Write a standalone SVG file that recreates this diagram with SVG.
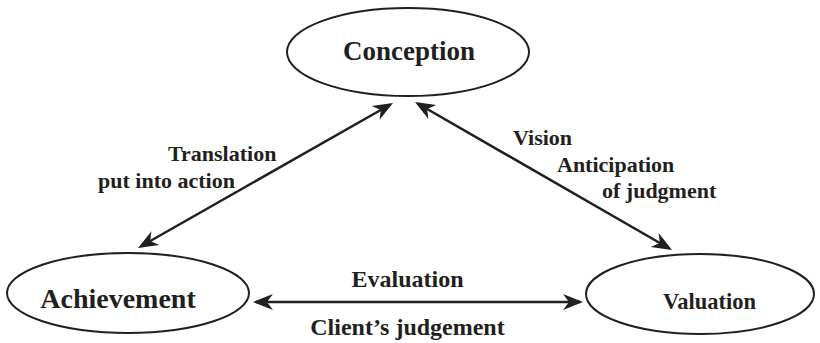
<svg xmlns="http://www.w3.org/2000/svg" width="820" height="343" viewBox="0 0 820 343">
<style>
.node{fill:#fff;stroke:#231f20;stroke-width:2}
.t{font-family:"Liberation Serif","Times New Roman",serif;font-weight:bold;fill:#231f20}
.c{stroke:#231f20;stroke-width:2.5;fill:none;marker-start:url(#ah);marker-end:url(#ah)}
</style>
<defs>
<marker id="ah" markerUnits="userSpaceOnUse" markerWidth="30" markerHeight="30" viewBox="-22 -11 30 22" refX="0" refY="0" orient="auto-start-reverse">
<path d="M3,0 L-17,-8 L-11,0 L-17,8 Z" fill="#231f20"/>
</marker>
</defs>
<rect width="820" height="343" fill="#fff"/>
<g id="connectors">
<line class="c" x1="140.6" y1="246.5" x2="390.4" y2="104.5"/>
<line class="c" x1="417.6" y1="103.5" x2="669.4" y2="248.5"/>
<line class="c" x1="256" y1="302" x2="580" y2="302"/>
<text class="t" x="168" y="161" font-size="22">Translation</text>
<text class="t" x="98" y="188" font-size="22">put into action</text>
<text class="t" x="513" y="145" font-size="22">Vision</text>
<text class="t" x="557" y="172" font-size="22">Anticipation</text>
<text class="t" x="602" y="198" font-size="22">of judgment</text>
<text class="t" x="407.5" y="287" font-size="24" text-anchor="middle">Evaluation</text>
<text class="t" x="407.5" y="335" font-size="24" text-anchor="middle">Client’s judgement</text>
</g>
<g id="conception">
<ellipse class="node" cx="408" cy="52" rx="121" ry="44"/>
<text class="t" x="409" y="60" font-size="27" text-anchor="middle">Conception</text>
</g>
<g id="achievement">
<ellipse class="node" cx="128" cy="293" rx="121" ry="40"/>
<text class="t" x="118" y="308" font-size="28" text-anchor="middle">Achievement</text>
</g>
<g id="valuation">
<ellipse class="node" cx="700" cy="294" rx="114" ry="40"/>
<text class="t" x="709.5" y="309" font-size="22.5" text-anchor="middle">Valuation</text>
</g>
</svg>
